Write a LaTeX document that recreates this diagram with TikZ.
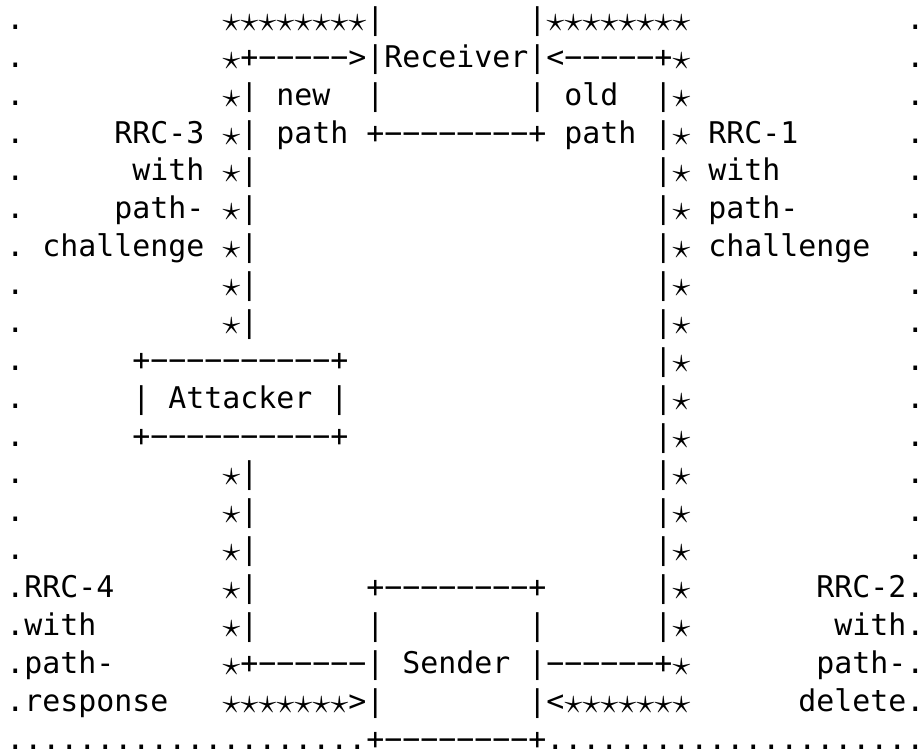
\documentclass[tikz,border=0pt]{standalone}
\usepackage{fontspec}
\setmonofont{DejaVu Sans Mono}
\usepackage{amssymb}
\usepackage{tikz}

\newlength\cw
\setlength\cw{9pt}
\newcommand\blank[1]{\hspace*{#1\cw}}
\newcommand\rep[2]{\foreach\n in{1,...,#1}{#2}}
\newcommand\sstar{\makebox[\cw]{\raisebox{-1pt}{\scalebox{1.25}{$\star$}}}}
\newcommand\stars[1]{\rep{#1}{\sstar}}
\newcommand\hyph[1]{\rep{#1}{\makebox[\cw]{−}}}
\newcommand\dotrow[1]{\rep{#1}{.}}

\begin{document}
\begin{tikzpicture}[x=9pt,y=18.935pt,
  row/.style={anchor=base west,inner sep=0pt,
    font=\ttfamily\fontsize{14.95pt}{18pt}\selectfont}]

\useasboundingbox (-3pt,14.75pt) rectangle (458.5pt,-361.25pt);

% receiver side
\node[row] (r1) at (0,0) {.\blank{11}\stars{8}|\blank{8}|\stars{8}\blank{12}.};
\node[row] (r2) at (0,-1) {.\blank{11}\sstar+\hyph{5}>|Receiver|<\hyph{5}+\sstar\blank{12}.};
\node[row] (r3) at (0,-2) {.\blank{11}\sstar|\blank{1}new\blank{2}|\blank{8}|\blank{1}old\blank{2}|\sstar\blank{12}.};
\node[row] (r4) at (0,-3) {.\blank{5}RRC-3\blank{1}\sstar|\blank{1}path\blank{1}+\hyph{8}+\blank{1}path\blank{1}|\sstar\blank{1}RRC-1\blank{6}.};
\node[row] (r5) at (0,-4) {.\blank{6}with\blank{1}\sstar|\blank{22}|\sstar\blank{1}with\blank{7}.};
\node[row] (r6) at (0,-5) {.\blank{5}path-\blank{1}\sstar|\blank{22}|\sstar\blank{1}path-\blank{6}.};
\node[row] (r7) at (0,-6) {.\blank{1}challenge\blank{1}\sstar|\blank{22}|\sstar\blank{1}challenge\blank{2}.};
\node[row] (r8) at (0,-7) {.\blank{11}\sstar|\blank{22}|\sstar\blank{12}.};
\node[row] (r9) at (0,-8) {.\blank{11}\sstar|\blank{22}|\sstar\blank{12}.};

% attacker
\node[row] (r10) at (0,-9) {.\blank{6}+\hyph{10}+\blank{17}|\sstar\blank{12}.};
\node[row] (r11) at (0,-10) {.\blank{6}|\blank{1}Attacker\blank{1}|\blank{17}|\sstar\blank{12}.};
\node[row] (r12) at (0,-11) {.\blank{6}+\hyph{10}+\blank{17}|\sstar\blank{12}.};
\node[row] (r13) at (0,-12) {.\blank{11}\sstar|\blank{22}|\sstar\blank{12}.};
\node[row] (r14) at (0,-13) {.\blank{11}\sstar|\blank{22}|\sstar\blank{12}.};
\node[row] (r15) at (0,-14) {.\blank{11}\sstar|\blank{22}|\sstar\blank{12}.};

% sender side
\node[row] (r16) at (0,-15) {.RRC-4\blank{6}\sstar|\blank{6}+\hyph{8}+\blank{6}|\sstar\blank{7}RRC-2.};
\node[row] (r17) at (0,-16) {.with\blank{7}\sstar|\blank{6}|\blank{8}|\blank{6}|\sstar\blank{8}with.};
\node[row] (r18) at (0,-17) {.path-\blank{6}\sstar+\hyph{6}|\blank{1}Sender\blank{1}|\hyph{6}+\sstar\blank{7}path-.};
\node[row] (r19) at (0,-18) {.response\blank{3}\stars{7}>|\blank{8}|<\stars{7}\blank{6}delete.};
\node[row] (r20) at (0,-19) {\dotrow{20}+\hyph{8}+\dotrow{21}};

\end{tikzpicture}
\end{document}
